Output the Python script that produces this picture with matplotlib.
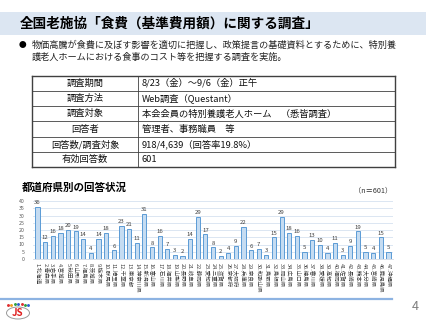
import matplotlib

matplotlib.use('Agg')
import matplotlib.pyplot as plt
from matplotlib.patches import Rectangle, Ellipse

plt.rcParams['font.family'] = ['Noto Sans CJK JP', 'DejaVu Sans']

W, H = 427, 320

title = '全国老施協「食費（基準費用額）に関する調査」'
bullet_lines = [
    '物価高騰が食費に及ぼす影響を適切に把握し、政策提言の基礎資料とするために、特別養',
    '護老人ホームにおける食事のコスト等を把握する調査を実施。',
]
table_keys = ['調査期間', '調査方法', '調査対象', '回答者', '回答数/調査対象', '有効回答数']
table_vals = [
    '8/23（金）～9/6（金）正午',
    'Web調査（Questant）',
    '本会会員の特別養護老人ホーム　（悉皆調査）',
    '管理者、事務職員　等',
    '918/4,639（回答率19.8%）',
    '601',
]
chart_title = '都道府県別の回答状況'
n_note = '（n＝601）'

prefectures = [
    '北海道', '青森県', '岩手県', '宮城県', '秋田県', '山形県', '福島県', '茨城県',
    '栃木県', '群馬県', '埼玉県', '千葉県', '東京都', '神奈川県', '新潟県', '富山県',
    '石川県', '福井県', '山梨県', '長野県', '岐阜県', '静岡県', '愛知県', '三重県',
    '滋賀県', '京都府', '大阪府', '兵庫県', '奈良県', '和歌山県', '鳥取県', '島根県',
    '岡山県', '広島県', '山口県', '徳島県', '香川県', '愛媛県', '高知県', '福岡県',
    '佐賀県', '長崎県', '熊本県', '大分県', '宮崎県', '鹿児島県', '沖縄県',
]
counts = [
    36, 12, 16, 18, 20, 19, 14, 4, 14, 18, 6, 23, 21, 11, 31, 8,
    16, 7, 3, 2, 14, 29, 17, 8, 2, 4, 9, 22, 6, 7, 3, 15,
    29, 18, 16, 5, 13, 10, 4, 11, 3, 9, 19, 5, 4, 15, 5,
]
tick_labels = [f'{i + 1}.{p}' for i, p in enumerate(prefectures)]

fig = plt.figure(figsize=(W / 100, H / 100), dpi=100)
fig.patch.set_facecolor('white')

# page overlay in pixel coordinates (y downward)
pg = fig.add_axes([0, 0, 1, 1])
pg.set_xlim(0, W)
pg.set_ylim(H, 0)
pg.axis('off')

pg.add_patch(Rectangle((0, 12), W, 23, facecolor='#dce6f2', edgecolor='none'))
pg.text(20, 23.5, title, fontsize=9.8, fontweight='bold', va='center', ha='left', color='black')

pg.text(19, 45, '●', fontsize=5.5, va='center', ha='left')
pg.text(32, 45, bullet_lines[0], fontsize=6.6, va='center', ha='left', color='#222222')
pg.text(32, 57.5, bullet_lines[1], fontsize=6.6, va='center', ha='left', color='#222222')

# survey table
tx0, tx1, tx2 = 32, 138, 395
ty0, row_h = 75.5, 15.3
nrows = len(table_keys)
for i, (k, v) in enumerate(zip(table_keys, table_vals)):
    yc = ty0 + row_h * (i + 0.5)
    pg.text((tx0 + tx1) / 2, yc, k, fontsize=6.7, ha='center', va='center', color='#111111')
    pg.text(tx1 + 4, yc, v, fontsize=6.7, ha='left', va='center', color='#111111')
for i in range(nrows + 1):
    y = ty0 + row_h * i
    lw = 1.0 if i in (0, nrows) else 0.6
    pg.plot([tx0, tx2], [y, y], color='#404040', lw=lw)
ty_end = ty0 + row_h * nrows
for x in (tx0, tx1, tx2):
    pg.plot([x, x], [ty0, ty_end], color='#404040', lw=1.0 if x != tx1 else 0.6)

pg.text(22, 188, chart_title, fontsize=7.6, fontweight='bold', ha='left', va='center')
pg.text(392, 190, n_note, fontsize=5.2, ha='right', va='center', color='#333333')

# footer line, page number, logo
pg.plot([0, 392], [299, 299], color='#8db3e2', lw=1.6)
pg.text(415, 306, '4', fontsize=9, ha='center', va='center', color='#7f7f7f')
pg.add_patch(Ellipse((18, 313), 23, 12, facecolor='white', edgecolor='#9a9a9a', lw=0.7))
pg.text(18, 313.5, 'JS', fontsize=7, fontweight='bold', color='#e02020', ha='center', va='center')
for j, c in enumerate(['#e03030', '#f0a020', '#30a040', '#3060d0', '#e03030', '#30a040', '#3060d0']):
    pg.plot(8 + j * 3.4, 305 - (1 if j in (2, 3, 4) else 0), 'o', ms=1.1, color=c)

# bar chart
ax_l, ax_r, ax_t, ax_b = 33, 393, 201, 259
ax = fig.add_axes([ax_l / W, (H - ax_b) / H, (ax_r - ax_l) / W, (ax_b - ax_t) / H])
x = list(range(len(counts)))
ax.bar(x, counts, width=0.55, color='#c5dcf2', edgecolor='#5b9bd5', linewidth=0.7, zorder=3)
for xi, v in zip(x, counts):
    ax.text(xi, v + 1.2, str(v), fontsize=4.3, ha='center', va='bottom', color='#404040')
ax.set_ylim(0, 40)
ax.set_xlim(-0.6, len(counts) - 0.4)
ax.set_yticks(range(0, 41, 5))
ax.tick_params(axis='y', labelsize=3.8, colors='#595959', length=0, pad=6)
ax.set_xticks(x)
ax.set_xticklabels(tick_labels, rotation=270, fontsize=4.0, color='#404040', va='top', ha='center')
ax.tick_params(axis='x', length=0, pad=3)
ax.grid(axis='y', color='#d6e2f0', lw=0.6, zorder=0)
for s in ax.spines.values():
    s.set_visible(False)
ax.spines['bottom'].set_visible(True)
ax.spines['bottom'].set_color('#d0d8e4')
ax.spines['bottom'].set_linewidth(0.6)
ax.set_facecolor('none')

fig.savefig('out.png', dpi=100)
